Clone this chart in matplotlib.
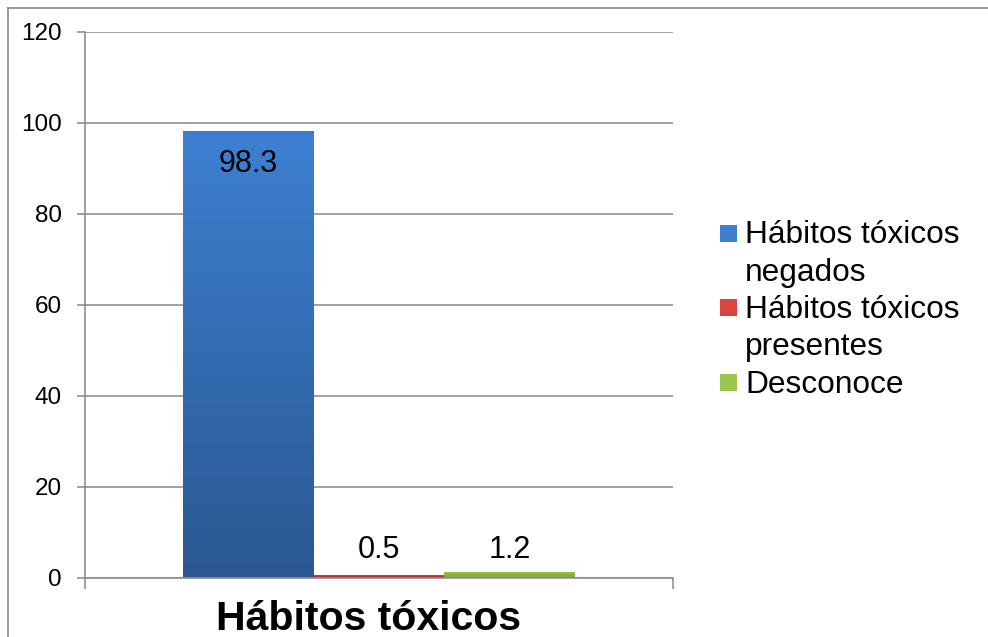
import matplotlib

matplotlib.use("Agg")
import matplotlib.pyplot as plt
import numpy as np
from matplotlib.colors import LinearSegmentedColormap
from matplotlib.lines import Line2D
from matplotlib.patches import Rectangle

plt.rcParams["font.family"] = ["Liberation Sans", "DejaVu Sans"]

# data
categories = ["Hábitos tóxicos\nnegados", "Hábitos tóxicos\npresentes", "Desconoce"]
values = [98.3, 0.5, 1.2]
value_labels = ["98.3", "0.5", "1.2"]
group_label = "Hábitos tóxicos"
yticks = [0, 20, 40, 60, 80, 100, 120]

# gradient colours (top, bottom) per series
top_colors = ["#3D80D2", "#DA4540", "#9DC44E"]
bottom_colors = ["#2B5892", "#B8302C", "#82A63C"]
GRAY = "#878787"

W, H = 988, 637
fig = plt.figure(figsize=(W / 100, H / 100), dpi=100)
ax = fig.add_axes([85 / W, 1 - 577.5 / H, 588 / W, 545.5 / H])

xs = np.arange(len(values)) - 1.0
bars = ax.bar(xs, values, width=1.0, color=top_colors, zorder=2)

grad = np.linspace(0, 1, 256).reshape(-1, 1)
for bar, ctop, cbot in zip(bars, top_colors, bottom_colors):
    cmap = LinearSegmentedColormap.from_list("g", [cbot, ctop])
    x0, w, h = bar.get_x(), bar.get_width(), bar.get_height()
    im = ax.imshow(grad, cmap=cmap, aspect="auto", origin="lower",
                   extent=(x0, x0 + w, 0, h), zorder=3)
    im.set_clip_path(bar)

# value labels: inside end for the tall bar, above the axis for the small ones
for x, v, lab in zip(xs, values, value_labels):
    if v > 50:
        ax.annotate(lab, (x, v), xytext=(0, -30), textcoords="offset points",
                    ha="center", va="baseline", fontsize=22, zorder=5)
    else:
        ax.annotate(lab, (x, 0), xytext=(0, 14), textcoords="offset points",
                    ha="center", va="baseline", fontsize=22, zorder=5)

ax.set_xlim(-2.245, 2.245)
ax.set_ylim(0, 120)
ax.set_yticks(yticks)
ax.set_xticks([-2.245, 2.245])
ax.set_xticklabels(["", ""])
ax.tick_params(axis="y", direction="out", length=5.8, width=1.1, color=GRAY,
               pad=11, labelsize=17.5)
ax.tick_params(axis="x", direction="out", length=8, width=1.1, color=GRAY)
ax.yaxis.grid(True, color=GRAY, lw=1.1)
ax.set_axisbelow(True)
for side in ("top", "right"):
    ax.spines[side].set_visible(False)
for side in ("left", "bottom"):
    ax.spines[side].set_color(GRAY)
    ax.spines[side].set_linewidth(1.1)
    ax.spines[side].set_zorder(4)

# category title under the axis
fig.text(368 / W, 1 - 630 / H, group_label, ha="center", va="baseline",
         fontsize=29.5, fontweight="bold")

# legend drawn by hand so the square sits next to the first line
line_step = 37.3
baseline = 243.3
for lab, ctop, cbot in zip(categories, top_colors, bottom_colors):
    lines = lab.split("\n")
    sq_y = baseline - 10
    fig.add_artist(Rectangle((720 / W, 1 - (sq_y + 8.5) / H), 17 / W, 17 / H,
                             transform=fig.transFigure,
                             facecolor=ctop, edgecolor="none"))
    for ln in lines:
        fig.text(745 / W, 1 - baseline / H, ln, ha="left", va="baseline",
                 fontsize=22.8)
        baseline += line_step

# outer frame (top and left edges visible)
fig.add_artist(Line2D([8 / W, 8 / W], [0, 1 - 8 / H], color=GRAY, lw=1.2,
                      transform=fig.transFigure))
fig.add_artist(Line2D([8 / W, 1], [1 - 8 / H, 1 - 8 / H], color=GRAY, lw=1.2,
                      transform=fig.transFigure))

fig.savefig("out.png", dpi=100)
